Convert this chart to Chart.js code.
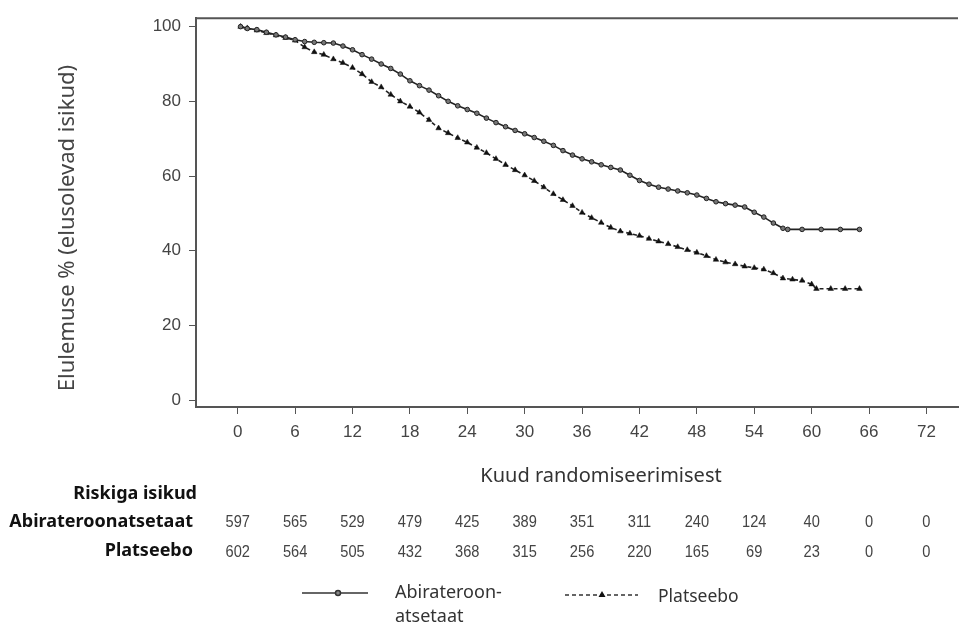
<!DOCTYPE html>
<html>
<head>
<meta charset="utf-8">
<script src="https://cdn.jsdelivr.net/npm/chart.js@4.4.1/dist/chart.umd.min.js"></script>
<style>
  html, body { margin: 0; padding: 0; background: #fff; }
  #wrap { position: relative; width: 963px; height: 624px; }
</style>
</head>
<body>
<div id="wrap"><canvas id="km"></canvas></div>
<script>
// Kaplan-Meier curves
const abiMonths = [0.3, 1, 2, 3, 4, 5, 6, 7, 8, 9, 10, 11, 12, 13, 14, 15, 16, 17, 18, 19, 20,
  21, 22, 23, 24, 25, 26, 27, 28, 29, 30, 31, 32, 33, 34, 35, 36, 37, 38, 39, 40,
  41, 42, 43, 44, 45, 46, 47, 48, 49, 50, 51, 52, 53, 54, 55, 56, 57, 57.5, 59, 61, 63, 65];
const abiSurv = [100, 99.5, 99.2, 98.5, 97.8, 97.2, 96.5, 96.0, 95.8, 95.7, 95.6, 94.8, 93.8, 92.5, 91.3, 90.0, 88.8, 87.3, 85.5, 84.2, 83.0,
  81.5, 80.0, 78.8, 77.8, 76.8, 75.5, 74.3, 73.2, 72.2, 71.3, 70.3, 69.3, 68.2, 66.8, 65.6, 64.6, 63.8, 63.0, 62.3, 61.6,
  60.2, 58.8, 57.8, 57.0, 56.5, 56.0, 55.5, 54.9, 54.0, 53.1, 52.6, 52.2, 51.7, 50.3, 49.0, 47.4, 46.0, 45.7, 45.7, 45.7, 45.7, 45.7];

const pboMonths = [0.3, 1, 2, 3, 4, 5, 6, 7, 8, 9, 10, 11, 12, 13, 14, 15, 16, 17, 18, 19, 20,
  21, 22, 23, 24, 25, 26, 27, 28, 29, 30, 31, 32, 33, 34, 35, 36, 37, 38, 39, 40,
  41, 42, 43, 44, 45, 46, 47, 48, 49, 50, 51, 52, 53, 54, 55, 56, 57, 58, 59, 60, 60.5, 62, 63.5, 65];
const pboSurv = [100, 99.6, 99.0, 98.3, 97.7, 97.0, 96.3, 94.5, 93.2, 92.5, 91.3, 90.3, 89.0, 87.3, 85.2, 83.8, 81.8, 80.0, 78.6, 77.0, 75.0,
  72.8, 71.5, 70.2, 69.0, 67.6, 66.2, 64.6, 63.0, 61.6, 60.2, 58.7, 57.0, 55.2, 53.6, 52.0, 50.2, 48.8, 47.5, 46.2, 45.2,
  44.6, 44.0, 43.2, 42.5, 41.8, 41.0, 40.2, 39.5, 38.6, 37.6, 36.9, 36.4, 35.8, 35.4, 35.0, 34.0, 32.6, 32.3, 32.0, 31.0, 29.8, 29.8, 29.8, 29.8];

const xTicks = [0, 6, 12, 18, 24, 30, 36, 42, 48, 54, 60, 66, 72];
const yTicks = [0, 20, 40, 60, 80, 100];

// numbers at risk, one per x tick
const riskAbi = [597, 565, 529, 479, 425, 389, 351, 311, 240, 124, 40, 0, 0];
const riskPbo = [602, 564, 505, 432, 368, 315, 256, 220, 165, 69, 23, 0, 0];

const seriesNames = ['Abirateroonatsetaat', 'Platseebo'];
const legendAbi = ['Abirateroon-', 'atsetaat'];
const yTitle = 'Elulemuse % (elusolevad isikud)';
const xTitle = 'Kuud randomiseerimisest';
const riskTitle = 'Riskiga isikud';

const toPoints = (xs, ys) => xs.map((m, i) => ({ x: m, y: ys[i] }));

const extras = {
  id: 'extras',
  afterDraw(chart) {
    const { ctx, chartArea: a, scales: { x } } = chart;
    ctx.save();
    // top frame line
    ctx.strokeStyle = '#555';
    ctx.lineWidth = 2;
    ctx.beginPath();
    ctx.moveTo(a.left - 1, a.top);
    ctx.lineTo(a.right, a.top);
    ctx.stroke();

    ctx.fillStyle = '#444';
    ctx.textBaseline = 'middle';

    // y title
    ctx.save();
    ctx.font = '22px "Noto Sans"';
    ctx.translate(68, 228);
    ctx.rotate(-Math.PI / 2);
    ctx.textAlign = 'center';
    ctx.fillText(yTitle, 0, 0);
    ctx.restore();

    // x title
    ctx.fillStyle = '#333';
    ctx.font = '20px "Noto Sans"';
    ctx.textAlign = 'center';
    ctx.fillText(xTitle, 601, 476);

    // risk table
    ctx.fillStyle = '#111';
    ctx.font = 'bold 18px "Noto Sans"';
    ctx.textAlign = 'right';
    ctx.fillText(riskTitle, 197, 494);
    ctx.fillText(seriesNames[0], 193, 522);
    ctx.fillText(seriesNames[1], 193, 551);

    ctx.fillStyle = '#444';
    ctx.font = '17px "Liberation Sans"';
    ctx.textAlign = 'center';
    xTicks.forEach((t, i) => {
      const px = x.getPixelForValue(t);
      ctx.save();
      ctx.translate(px, 0);
      ctx.scale(0.86, 1);
      ctx.fillText(String(riskAbi[i]), 0, 522);
      ctx.fillText(String(riskPbo[i]), 0, 552);
      ctx.restore();
    });

    // legend
    ctx.strokeStyle = '#333';
    ctx.lineWidth = 1.5;
    ctx.beginPath();
    ctx.moveTo(302, 593);
    ctx.lineTo(368, 593);
    ctx.stroke();
    ctx.beginPath();
    ctx.arc(338, 593, 2.5, 0, Math.PI * 2);
    ctx.fillStyle = '#888';
    ctx.fill();
    ctx.stroke();

    ctx.setLineDash([4, 3]);
    ctx.beginPath();
    ctx.moveTo(565, 595);
    ctx.lineTo(638, 595);
    ctx.stroke();
    ctx.setLineDash([]);
    ctx.fillStyle = '#111';
    ctx.beginPath();
    ctx.moveTo(602, 591);
    ctx.lineTo(605.5, 597);
    ctx.lineTo(598.5, 597);
    ctx.closePath();
    ctx.fill();

    ctx.fillStyle = '#333';
    ctx.font = '18px "Noto Sans"';
    ctx.textAlign = 'left';
    ctx.fillText(legendAbi[0], 395, 593);
    ctx.fillText(legendAbi[1], 395, 617);
    ctx.font = '17.5px "Noto Sans"';
    ctx.fillText(seriesNames[1], 658, 597);
    ctx.restore();
  }
};

new Chart(document.getElementById('km'), {
  type: 'scatter',
  data: {
    datasets: [
      {
        label: seriesNames[0],
        data: toPoints(abiMonths, abiSurv),
        showLine: true,
        borderColor: '#222',
        borderWidth: 1.6,
        pointStyle: 'circle',
        pointRadius: 2.3,
        pointBackgroundColor: '#777',
        pointBorderColor: '#222',
        pointBorderWidth: 1
      },
      {
        label: seriesNames[1],
        data: toPoints(pboMonths, pboSurv),
        showLine: true,
        borderColor: '#222',
        borderWidth: 1.6,
        borderDash: [4, 3],
        pointStyle: 'triangle',
        pointRadius: 3.2,
        pointBackgroundColor: '#111',
        pointBorderColor: '#111',
        pointBorderWidth: 0.5
      }
    ]
  },
  options: {
    responsive: true,
    maintainAspectRatio: false,
    animation: false,
    layout: { padding: { top: 15, left: 0, right: 0, bottom: 0 } },
    plugins: {
      legend: { display: false },
      tooltip: { enabled: false }
    },
    scales: {
      x: {
        type: 'linear',
        min: -4.36,
        max: 75.3,
        afterFit: (s) => { s.height = 217; },
        afterBuildTicks: (s) => { s.ticks = xTicks.map((v) => ({ value: v })); },
        grid: { drawOnChartArea: false, drawTicks: true, tickLength: 7, color: '#555' },
        border: { color: '#555', width: 2 },
        ticks: {
          color: '#444',
          font: { family: 'Liberation Sans', size: 17 },
          padding: 8,
          maxRotation: 0,
          autoSkip: false
        }
      },
      y: {
        min: -1.86,
        max: 102.26,
        afterFit: (s) => { s.width = 196; },
        afterBuildTicks: (s) => { s.ticks = yTicks.map((v) => ({ value: v })); },
        grid: { drawOnChartArea: false, drawTicks: true, tickLength: 7, color: '#555' },
        border: { color: '#555', width: 2 },
        ticks: {
          color: '#444',
          font: { family: 'Liberation Sans', size: 17 },
          padding: 8
        }
      }
    }
  },
  plugins: [extras]
});
</script>
</body>
</html>
